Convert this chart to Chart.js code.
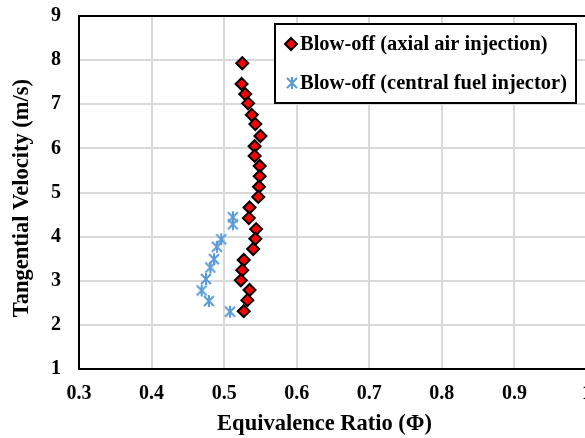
<!DOCTYPE html>
<html>
<head>
<meta charset="utf-8">
<script src="https://cdn.jsdelivr.net/npm/chart.js@4/dist/chart.umd.min.js"></script>
<style>
  html, body { margin: 0; padding: 0; background: #fff; overflow: hidden; }
  #wrap { width: 610px; height: 438px; }
  canvas { display: block; }
</style>
</head>
<body>
<div id="wrap"><canvas id="chart" width="610" height="438"></canvas></div>
<script>
// values
const axialPhi = [0.525, 0.524, 0.529, 0.533, 0.538, 0.543, 0.550, 0.542, 0.542, 0.549, 0.549, 0.548,
    0.547, 0.535, 0.534, 0.544, 0.543, 0.540, 0.527, 0.525, 0.523, 0.535, 0.532, 0.527];
const axialVel = [7.93, 7.46, 7.23, 7.02, 6.76, 6.55, 6.28, 6.05, 5.83, 5.60, 5.37, 5.13,
    4.90, 4.66, 4.42, 4.17, 3.95, 3.72, 3.47, 3.24, 3.01, 2.79, 2.56, 2.31];
const centralPhi = [0.512, 0.512, 0.496, 0.490, 0.486, 0.481, 0.475, 0.469, 0.479, 0.508];
const centralVel = [4.44, 4.28, 3.94, 3.77, 3.49, 3.30, 3.04, 2.78, 2.54, 2.30];

const seriesNames = ['Blow-off (axial air injection)', 'Blow-off (central fuel injector)'];
const xLimits = [0.3, 1];
const yLimits = [1, 9];

const serif = '"Liberation Serif", "Times New Roman", serif';
const blue = '#5b9bd5';

// excel style asterisk marker
function starMarker(){
    const c = document.createElement('canvas');
    c.width = 14; c.height = 14;
    const g = c.getContext('2d');
    g.strokeStyle = blue;
    g.lineWidth = 2;
    g.beginPath();
    g.moveTo(2, 2); g.lineTo(12, 12);
    g.moveTo(12, 2); g.lineTo(2, 12);
    g.moveTo(7, 1); g.lineTo(7, 13);
    g.stroke();
    return c;
}
const star = starMarker();

function toPoints(xs, ys){
    const pts = [];
    for (let i = 0; i < xs.length; i++) {
        pts.push({x: xs[i], y: ys[i]});
    }
    return pts;
}

// fixed box sizes, no label overflow padding -> plot area set by layout.padding only
function fixBox(size){
    return (s) => {
        if (s.isHorizontal()) s.height = size; else s.width = size;
        s.paddingTop = 0;
        s.paddingBottom = 0;
        s.paddingLeft = 0;
        s.paddingRight = 0;
    };
}

// legend box inside the plot, top right
const boxLegend = {
    id: 'boxLegend',
    afterDraw(chart){
        const ctx = chart.ctx;
        ctx.save();
        ctx.fillStyle = '#fff';
        ctx.fillRect(275, 24, 301, 79);
        ctx.strokeStyle = '#000';
        ctx.lineWidth = 2;
        ctx.strokeRect(275, 24, 301, 79);

        // diamond
        ctx.beginPath();
        ctx.moveTo(291, 38); ctx.lineTo(297, 44); ctx.lineTo(291, 50); ctx.lineTo(285, 44);
        ctx.closePath();
        ctx.fillStyle = '#ff0000';
        ctx.fill();
        ctx.lineWidth = 2;
        ctx.strokeStyle = '#000';
        ctx.stroke();

        ctx.drawImage(star, 285, 76);

        ctx.fillStyle = '#000';
        ctx.font = 'bold 20.5px ' + serif;
        ctx.textBaseline = 'middle';
        ctx.fillText(seriesNames[0], 300, 45);
        ctx.fillText(seriesNames[1], 300, 84);
        ctx.restore();
    }
};

const ctx = document.querySelector('#chart');

new Chart(ctx, {
    type: 'scatter',
    data: {
        datasets: [
            {
                label: seriesNames[0],
                data: toPoints(axialPhi, axialVel),
                pointStyle: 'rectRot',
                pointRadius: 6,
                pointBackgroundColor: '#ff0000',
                pointBorderColor: '#000',
                pointBorderWidth: 2,
            },
            {
                label: seriesNames[1],
                data: toPoints(centralPhi, centralVel),
                pointStyle: star,
                pointRadius: 7,
            },
        ]
    },
    options: {
        responsive: false,
        animation: false,
        layout: { padding: { top: 16, right: 23, left: 0, bottom: 0 } },
        plugins: {
            legend: { display: false },
            tooltip: { enabled: false },
        },
        scales: {
            x: {
                type: 'linear',
                min: xLimits[0],
                max: xLimits[1],
                afterFit: fixBox(69),
                ticks: {
                    stepSize: 0.1,
                    padding: 13,
                    maxRotation: 0,
                    color: '#000',
                    font: { family: serif, size: 20, weight: 'bold' },
                    callback: (v) => String(Number(v.toFixed(1))),
                },
                grid: {
                    drawTicks: false,
                    lineWidth: 2,
                    color: (c) => (c.tick && Math.abs(c.tick.value - 1) < 1e-6) ? '#000' : '#d9d9d9',
                },
                border: { color: '#000', width: 2 },
                title: {
                    display: true,
                    // trailing spaces pull the centred title a little left, like the original
                    text: 'Equivalence Ratio (Φ)\u00a0\u00a0\u00a0',
                    color: '#000',
                    font: { family: serif, size: 22.5, weight: 'bold' },
                    padding: { top: 0, bottom: 0 },
                },
            },
            y: {
                type: 'linear',
                min: yLimits[0],
                max: yLimits[1],
                afterFit: fixBox(79),
                ticks: {
                    stepSize: 1,
                    padding: 18,
                    color: '#000',
                    font: { family: serif, size: 20, weight: 'bold' },
                },
                grid: {
                    drawTicks: false,
                    lineWidth: 2,
                    color: (c) => (c.tick && c.tick.value === 9) ? '#000' : '#d9d9d9',
                },
                border: { color: '#000', width: 2 },
                title: {
                    display: true,
                    text: 'Tangential Velocity (m/s)\u00a0\u00a0',
                    color: '#000',
                    font: { family: serif, size: 22.5, weight: 'bold' },
                    padding: { top: 9, bottom: 0 },
                },
            },
        },
    },
    plugins: [boxLegend],
});
</script>
</body>
</html>
